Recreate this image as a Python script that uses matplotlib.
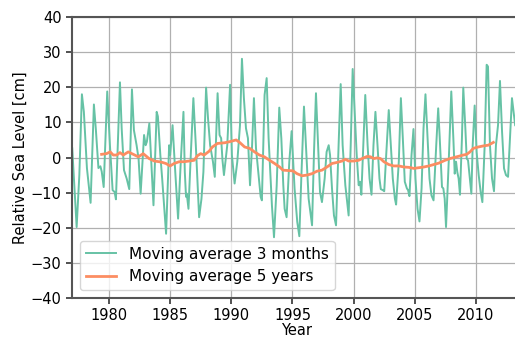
import matplotlib.pyplot as plt

# 3-month moving average (turning points)
years_3m = [
    1977.0, 1977.36, 1977.58, 1977.79, 1977.95, 1978.2, 1978.5, 1978.77, 1978.93,
    1979.14, 1979.3, 1979.41, 1979.57, 1979.86, 1980.08, 1980.3, 1980.46, 1980.57,
    1980.9, 1981.04, 1981.23, 1981.45, 1981.66, 1981.88, 1982.04, 1982.26, 1982.42,
    1982.59, 1982.87, 1983.0, 1983.1, 1983.3, 1983.64, 1983.9, 1984.0, 1984.2,
    1984.35, 1984.67, 1984.92, 1985.0, 1985.2, 1985.37, 1985.65, 1985.87, 1986.09,
    1986.2, 1986.3, 1986.36, 1986.5, 1986.7, 1986.9, 1987.1, 1987.37, 1987.56,
    1987.72, 1987.94, 1988.1, 1988.27, 1988.5, 1988.65, 1988.88, 1989.04, 1989.17,
    1989.28, 1989.4, 1989.67, 1989.9, 1990.05, 1990.27, 1990.49, 1990.71, 1990.87,
    1991.03, 1991.2, 1991.36, 1991.53, 1991.7, 1991.85, 1992.02, 1992.23, 1992.4,
    1992.5, 1992.72, 1992.89, 1993.05, 1993.32, 1993.49, 1993.71, 1993.92, 1994.09,
    1994.25, 1994.36, 1994.52, 1994.74, 1994.93, 1995.17, 1995.39, 1995.56, 1995.72,
    1995.94, 1996.1, 1996.32, 1996.6, 1996.76, 1996.92, 1997.09, 1997.25, 1997.41,
    1997.63, 1997.79, 1997.96, 1998.07, 1998.23, 1998.39, 1998.56, 1998.77, 1998.94,
    1999.1, 1999.32, 1999.59, 1999.76, 1999.92, 2000.08, 2000.25, 2000.41, 2000.52,
    2000.63, 2000.79, 2000.95, 2001.14, 2001.3, 2001.46, 2001.62, 2001.78, 2001.95,
    2002.11, 2002.22, 2002.39, 2002.5, 2002.66, 2002.87, 2003.04, 2003.2, 2003.37,
    2003.47, 2003.69, 2003.86, 2004.02, 2004.18, 2004.35, 2004.45, 2004.56, 2004.73,
    2004.89, 2005.05, 2005.22, 2005.38, 2005.55, 2005.71, 2005.87, 2006.04, 2006.2,
    2006.36, 2006.53, 2006.75, 2006.91, 2007.03, 2007.22, 2007.33, 2007.44, 2007.55,
    2007.77, 2007.98, 2008.15, 2008.26, 2008.37, 2008.47, 2008.58, 2008.69, 2008.85,
    2008.96, 2009.13, 2009.24, 2009.35, 2009.46, 2009.62, 2009.73, 2009.89, 2010.05,
    2010.22, 2010.38, 2010.52, 2010.71, 2010.87, 2010.98, 2011.14, 2011.31, 2011.47,
    2011.63, 2011.8, 2011.96, 2012.13, 2012.29, 2012.45, 2012.62, 2012.78, 2012.94,
    2013.11, 2013.2,
]
level_3m = [
    2.6, -19.8, -5, 18.0, 13, -3, -12.9, 15.1, 8,
    -3, -2.5, -4, -8.4, 18.8, 3.5, -9.3, -9.8, -11.9,
    21.4, 8.3, -3.6, -6, -9.0, 19.4, 7.8, 3.5, -0.3,
    -10.3, 6.4, 3.5, 4.5, 9.7, -13.6, 13, 11.7, 0.7,
    -6, -21.7, 3.5, 0.7, 9.2, -1.2, -17.4, -1.2, 13,
    -4.1, -11.2, -10.3, -14.6, 1.6, 16.9, 3.5, -17, -11.8,
    -4.1, 19.9, 11, 3.5, -1.2, -5.5, 18.3, 6.4, 5.5,
    -0.8, -5, 3.5, 20.7, 0.7, -7.4, -1.2, 9.2, 28.1,
    16.9, 8.3, 5.5, -7.9, 3.5, 16.9, 2.6, -5, -11.2,
    -12.2, 17.8, 22.6, 5.4, -13.6, -22.7, -8, 14.2, 5.4,
    -7.9, -14.6, -17, -1.2, 7.5, -8.8, -18.3, -22.4, -6,
    14.5, 3.5, -11.7, -19.3, 1.6, 18.3, 3.5, -9.8, -12.7,
    -6, 1.6, 3.5, 0.7, -8.8, -16.5, -19.3, 3.5, 20.9,
    3.5, -7.9, -16.5, 3.5, 25.2, 13, 0.7, -7.9, -6.9,
    -10.6, 3.5, 17.8, 3.5, -6, -10.6, 3.5, 13, 3.5,
    -6, -9, -9.3, -9.6, 0.7, 13.5, 3.5, -6, -11.7,
    -13.4, -1.2, 16.9, 5.4, -6.9, -8.8, -9.3, -11, 0.7,
    8.1, -6, -14.6, -18.2, -8.8, 8.3, 18, 5.4, -6,
    -10.8, -12.2, 3.5, 14, 6, -8.4, -8.8, -11.7, -19.8,
    -1.2, 18.8, 5.4, -4.6, -1.2, -4.1, -6, -10.6, 5.4,
    19.9, 8.3, -0.3, -0.8, -4.6, -10.3, 3.5, 14.8, 1.6,
    -5, -9.8, -12.7, 3.5, 26.4, 25.9, 3.5, -6, -9.6,
    3.5, 9.2, 21.8, 7.3, -3.1, -5, -5.5, 5.4, 16.9,
    11.7, 9.2,
]

# 5-year moving average
years_5y = [
    1979.4, 1979.8, 1980.1, 1980.35, 1980.63, 1980.9, 1981.17, 1981.58, 1981.99,
    1982.4, 1982.8, 1983.28, 1983.7, 1984.1, 1984.37, 1984.65, 1985.0, 1985.33,
    1985.74, 1986.14, 1986.55, 1986.96, 1987.23, 1987.5, 1987.78, 1988.19, 1988.46,
    1988.87, 1989.46, 1989.86, 1990.4, 1990.68, 1991.09, 1991.5, 1991.9, 1992.3,
    1992.7, 1993.13, 1993.54, 1993.95, 1994.22, 1994.63, 1995.04, 1995.37, 1995.78,
    1996.19, 1996.6, 1997.0, 1997.41, 1997.82, 1998.23, 1998.64, 1999.05, 1999.32,
    1999.59, 2000.0, 2000.4, 2000.82, 2001.1, 2001.38, 2001.65, 2001.92, 2002.19,
    2002.47, 2002.87, 2003.28, 2003.69, 2004.1, 2004.51, 2004.92, 2005.33, 2005.74,
    2006.15, 2006.55, 2006.96, 2007.47, 2007.87, 2008.42, 2008.96, 2009.24, 2009.51,
    2009.78, 2010.19, 2010.6, 2011.0, 2011.42,
]
level_5y = [
    0.9, 1.1, 1.6, 0.7, 0.7, 1.4, 0.7, 1.6, 0.9,
    0.2, 1.1, -0.3, -1.0, -1.2, -1.4, -1.7, -2.4, -1.7,
    -1.2, -1.2, -1.0, -0.8, 0.5, 1.1, 0.7, 1.8, 3.0,
    4.0, 4.2, 4.5, 5.0, 4.3, 3.0, 2.6, 1.6, 0.7,
    0.2, -0.8, -1.7, -2.7, -3.6, -3.7, -3.8, -4.6, -5.2,
    -5.0, -4.6, -3.9, -3.6, -2.7, -1.7, -1.4, -1.0, -0.5,
    -1.0, -1.0, -0.8, -0.1, 0.3, 0.2, -0.3, -0.1, -0.3,
    -1.2, -2.0, -2.4, -2.4, -2.7, -2.8, -3.1, -2.9, -2.7,
    -2.4, -2.0, -1.6, -0.8, -0.3, 0.2, 0.7, 0.9, 1.6,
    2.6, 3.0, 3.3, 3.5, 4.3,
]

yticks = [-40, -30, -20, -10, 0, 10, 20, 30, 40]
xticks = [1980, 1985, 1990, 1995, 2000, 2005, 2010]

plt.rcParams['font.size'] = 10.5

fig = plt.figure(figsize=(5.15, 3.38), dpi=100)
ax = fig.add_axes([0.1398, 0.1183, 0.870, 0.8314])

ax.plot(years_3m, level_3m, color='#66c2a5', lw=1.4, label='Moving average 3 months')
ax.plot(years_5y, level_5y, color='#fc8d62', lw=2.0, label='Moving average 5 years')

ax.set_xlim(1976.98, 2013.6)
ax.set_ylim(-40, 40)
ax.set_xticks(xticks)
ax.set_yticks(yticks)
ax.grid(True, color='#b0b0b0', lw=0.9)
ax.set_axisbelow(True)
for s in ax.spines.values():
    s.set_color('#555555')
    s.set_linewidth(1.5)
ax.tick_params(direction='out', length=4, width=1.2, color='#333333')

ax.set_xlabel('Year', labelpad=0)
ax.set_ylabel('Relative Sea Level [cm]', labelpad=2)
ax.legend(loc='lower left', fontsize=11)

fig.savefig('out.png', dpi=100)
